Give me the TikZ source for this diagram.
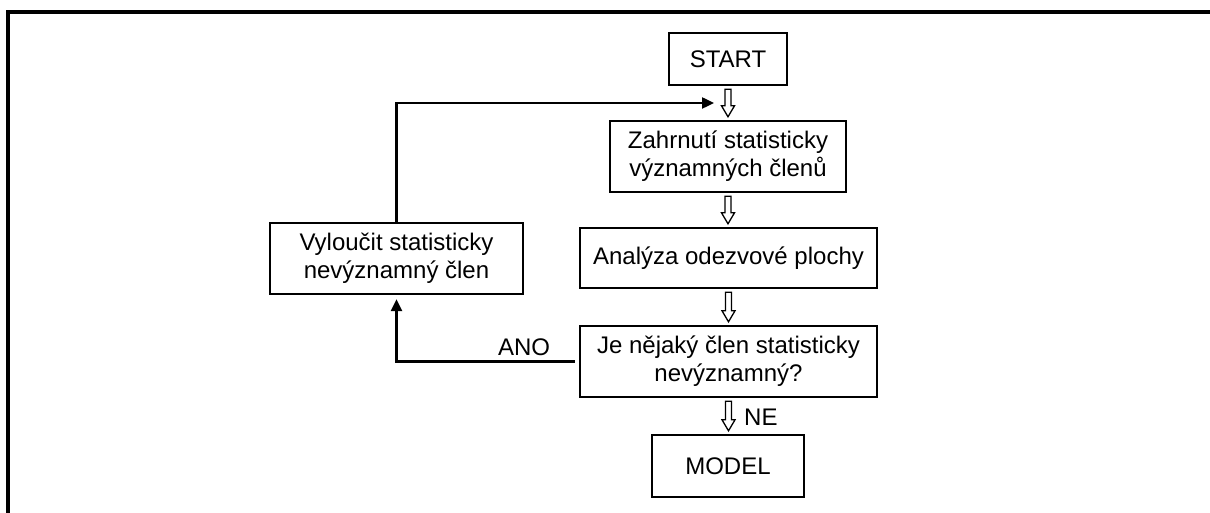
\documentclass[tikz,border=0pt]{standalone}
\usepackage{fontspec}
\setmainfont{Liberation Sans}
\usetikzlibrary{arrows.meta,calc}
\begin{document}
\begin{tikzpicture}[x=1pt,y=-1pt,
  box/.style={draw, line width=2.4pt, align=center, inner sep=0pt,
    font=\fontsize{24}{28}\selectfont},
  lbl/.style={font=\fontsize{24}{28}\selectfont, inner sep=0pt},
  conn/.style={line width=2.4pt, -{Triangle[length=12pt,width=11pt]}},
  hollow/.style={draw, line width=1.3pt, fill=white,
    to path={let \p1=(\tikztostart), \p2=(\tikztotarget) in
      (\x1-3pt,\y1-3pt) -- (\x1-3pt,\y2+14pt) -- (\x1-6.5pt,\y2+14pt) -- (\x1,\y2+3pt)
      -- (\x1+6.5pt,\y2+14pt) -- (\x1+3pt,\y2+14pt) -- (\x1+3pt,\y1-3pt) -- cycle}}]
\useasboundingbox (0,0) rectangle (1210,513);
\draw[line width=3.4pt] (8,515) -- (8,12) -- (1212,12);

\node[box, minimum width=118pt, minimum height=52pt] (start) at (728,59) {START};
\node[box, minimum width=236pt, minimum height=71pt] (zah) at (728,156.5) {Zahrnutí statisticky\\významných členů};
\node[box, minimum width=297pt, minimum height=60pt] (ana) at (728.5,258) {Analýza odezvové plochy};
\node[box, minimum width=297pt, minimum height=71pt] (je) at (728.5,361.5) {Je nějaký člen statisticky\\nevýznamný?};
\node[box, minimum width=152pt, minimum height=62pt] (model) at (728,466) {MODEL};
\node[box, minimum width=253pt, minimum height=71pt] (vyl) at (396.5,258.5) {Vyloučit statisticky\\nevýznamný člen};

\draw[hollow] (start.south) to (zah.north);
\draw[hollow] (zah.south) to (ana.north);
\draw[hollow] (ana.south) to (je.north);
\draw[hollow] (je.south) to (model.north);

\node[lbl, anchor=west] (ne) at (744,417) {NE};
\node[lbl] (ano) at (524,347) {ANO};

\coordinate (fbend) at (714,103);
\draw[conn] (vyl.north) |- (fbend);
\draw[conn, shorten >=4pt] ([xshift=-4pt]je.west) -| (vyl.south);
\end{tikzpicture}
\end{document}
